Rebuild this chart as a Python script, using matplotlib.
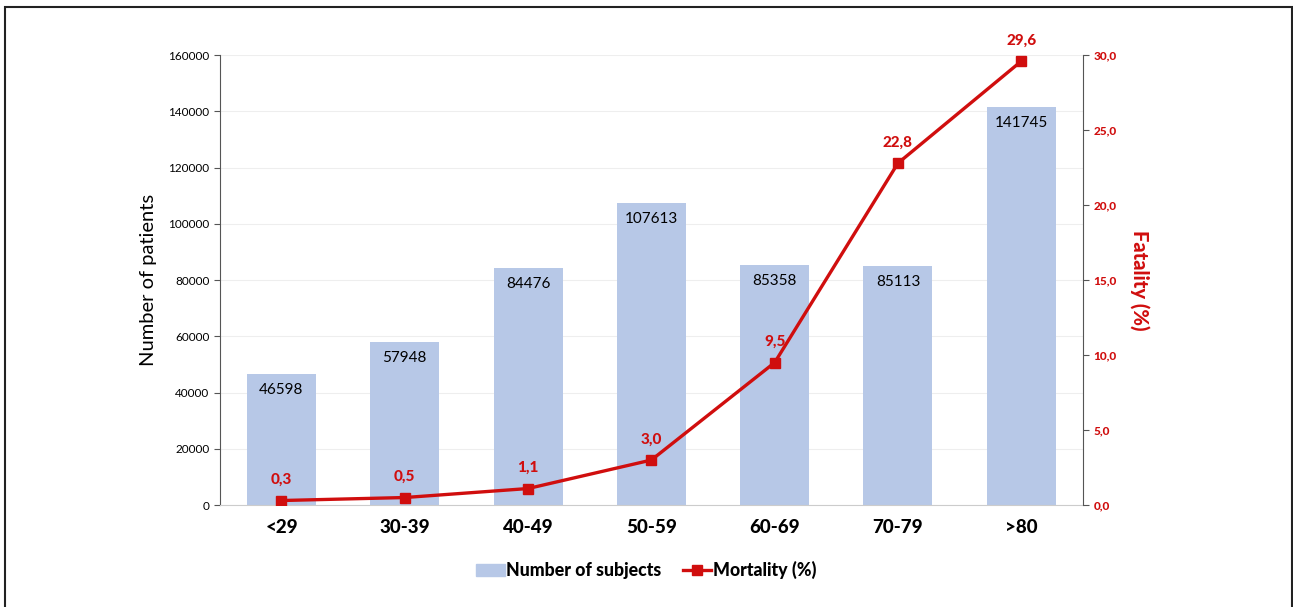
import numpy as np
import matplotlib.pyplot as plt
from matplotlib.patches import Rectangle
from matplotlib.lines import Line2D
from matplotlib.patches import Patch

plt.rcParams['font.family'] = ['Lato', 'DejaVu Sans']

age_groups = ['<29', '30-39', '40-49', '50-59', '60-69', '70-79', '>80']
subjects = [46598, 57948, 84476, 107613, 85358, 85113, 141745]
mortality = [0.3, 0.5, 1.1, 3.0, 9.5, 22.8, 29.6]

bar_color = '#b7c8e7'
red = '#d00e0e'

fig = plt.figure(figsize=(12.93, 6.07), dpi=100)
ax = fig.add_axes([0.170, 0.168, 0.6675, 0.741])
x = np.arange(len(age_groups))

ax.bar(x, subjects, width=0.56, color=bar_color, zorder=2)
for xi, v in zip(x, subjects):
    ax.text(xi, v - 5800, str(v), ha='center', va='center', fontsize=11, color='black', zorder=3)

ax.set_xlim(-0.5, 6.5)
ax.set_ylim(0, 160000)
ax.set_yticks(np.arange(0, 160001, 20000))
ax.tick_params(axis='y', labelsize=8.5, length=4, color='#555555')
ax.tick_params(axis='x', length=0, labelsize=13.5, pad=10)
ax.set_xticks(x)
ax.set_xticklabels(age_groups, fontweight='black')
ax.grid(axis='y', color='#eeeeee', lw=0.8, zorder=0)
ax.spines['top'].set_visible(False)
ax.spines['right'].set_visible(False)
ax.spines['left'].set_color('#555555')
ax.spines['bottom'].set_color('#cccccc')
ax.set_ylabel('Number of patients', fontsize=14.5, labelpad=8)

ax2 = ax.twinx()
ax2.plot(x, mortality, color=red, lw=2.4, marker='s', markersize=7.5, zorder=4)
for xi, m in zip(x, mortality):
    ax2.text(xi, m + 0.9, f'{m:.1f}'.replace('.', ','), ha='center', va='bottom',
             fontsize=11, fontweight='black', color=red)
ax2.set_ylim(0, 30)
ax2.set_yticks(np.arange(0, 30.1, 5))
ax2.set_yticklabels([f'{t:.1f}'.replace('.', ',') for t in np.arange(0, 30.1, 5)])
ax2.tick_params(axis='y', labelsize=8.5, length=4, color='#555555', labelcolor=red)
for lbl in ax2.get_yticklabels():
    lbl.set_fontweight('black')
ax2.spines['top'].set_visible(False)
ax2.spines['left'].set_visible(False)
ax2.spines['bottom'].set_visible(False)
ax2.spines['right'].set_color('#555555')
ax2.set_ylabel('Fatality (%)', fontsize=14.5, color=red, fontweight='black', rotation=270, labelpad=24)

handles = [Patch(color=bar_color), Line2D([0], [0], color=red, lw=2.4, marker='s', markersize=7.5)]
fig.legend(handles, ['Number of subjects', 'Mortality (%)'], loc='center', bbox_to_anchor=(0.5, 0.061),
           ncol=2, frameon=False, prop={'weight': 'black', 'size': 12.8}, handlelength=1.6,
           handletextpad=0.1, columnspacing=1.2)

fig.patches.append(Rectangle((5 / 1293, -0.01), 1287 / 1293, 1 - 7 / 607 + 0.01, transform=fig.transFigure,
                             fill=False, edgecolor='#222222', lw=1.5))

fig.savefig('out.png', dpi=100)
